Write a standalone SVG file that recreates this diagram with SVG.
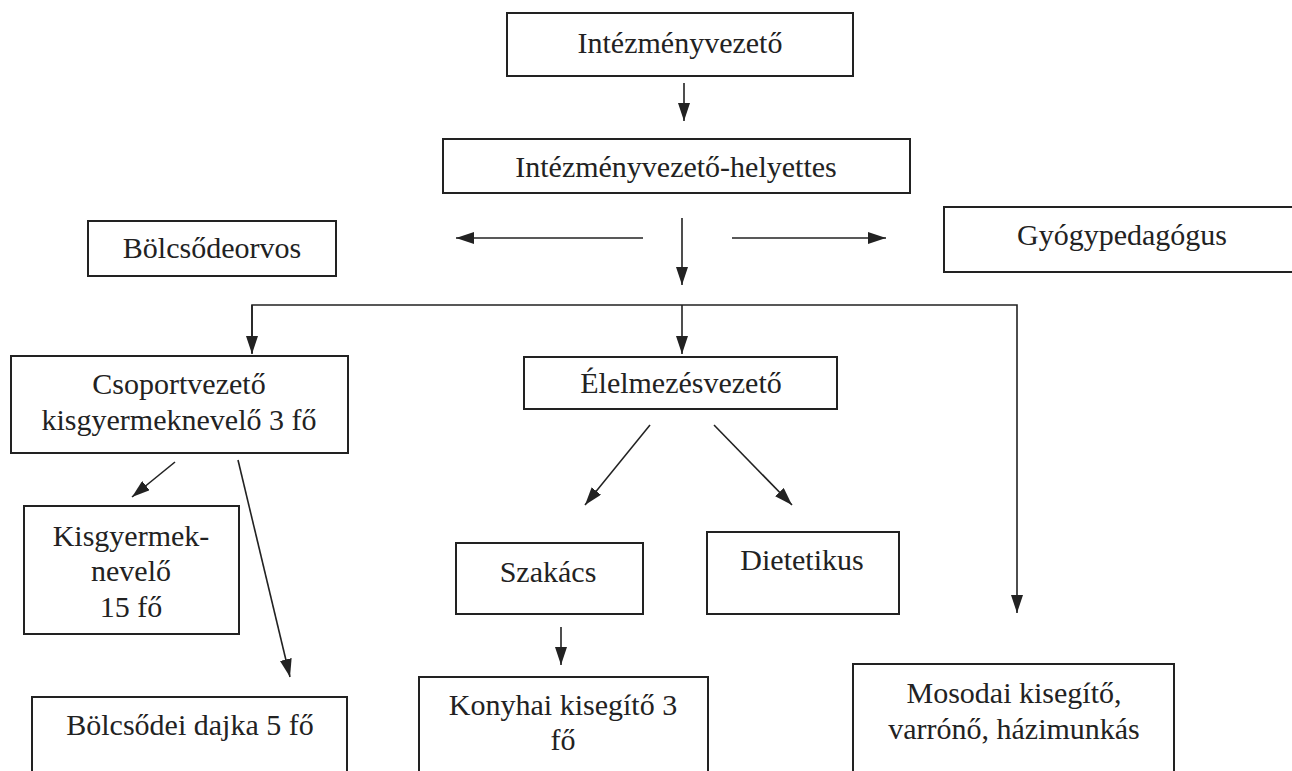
<svg xmlns="http://www.w3.org/2000/svg" width="1292" height="771" viewBox="0 0 1292 771">
<defs>
<marker id="ah" viewBox="0 0 18 12" refX="18" refY="6" markerWidth="18" markerHeight="12" orient="auto" markerUnits="userSpaceOnUse">
<path d="M0,0 L18,6 L0,12 Z" fill="#222"/>
</marker>
</defs>
<rect width="1292" height="771" fill="#fff"/>
<g id="connectors" fill="none" stroke="#222" stroke-width="1.6">
<line x1="684" y1="83" x2="684" y2="121" marker-end="url(#ah)"/>
<line x1="643" y1="238" x2="456" y2="238" marker-end="url(#ah)"/>
<line x1="682" y1="218" x2="682" y2="285" marker-end="url(#ah)"/>
<line x1="732" y1="238" x2="886" y2="238" marker-end="url(#ah)"/>
<polyline points="252,353 252,305 1017,305 1017,613" marker-end="url(#ah)"/>
<line x1="252" y1="305" x2="252" y2="354" marker-end="url(#ah)"/>
<line x1="682" y1="305" x2="682" y2="354" marker-end="url(#ah)"/>
<line x1="175" y1="462" x2="132" y2="497" marker-end="url(#ah)"/>
<line x1="238" y1="460" x2="290" y2="677" marker-end="url(#ah)"/>
<line x1="650" y1="425" x2="585" y2="505" marker-end="url(#ah)"/>
<line x1="714" y1="425" x2="792" y2="505" marker-end="url(#ah)"/>
<line x1="561" y1="627" x2="561" y2="665" marker-end="url(#ah)"/>
</g>
<g id="intezmenyvezeto">
<rect x="507" y="13" width="346" height="63" fill="#fff" stroke="#222" stroke-width="2"/>
<text font-family="Liberation Serif" font-size="30" fill="#222" text-anchor="middle" x="680" y="53">Intézményvezető</text>
</g>
<g id="helyettes">
<rect x="443" y="139" width="467" height="54" fill="#fff" stroke="#222" stroke-width="2"/>
<text font-family="Liberation Serif" font-size="30" fill="#222" text-anchor="middle" x="676" y="177">Intézményvezető-helyettes</text>
</g>
<g id="bolcsodeorvos">
<rect x="88" y="221" width="248" height="55" fill="#fff" stroke="#222" stroke-width="2"/>
<text font-family="Liberation Serif" font-size="30" fill="#222" text-anchor="middle" x="212" y="258">Bölcsődeorvos</text>
</g>
<g id="gyogypedagogus">
<rect x="944" y="207" width="360" height="65" fill="#fff" stroke="#222" stroke-width="2"/>
<text font-family="Liberation Serif" font-size="30" fill="#222" text-anchor="middle" x="1122" y="245">Gyógypedagógus</text>
</g>
<g id="csoportvezeto">
<rect x="11" y="356" width="337" height="97" fill="#fff" stroke="#222" stroke-width="2"/>
<text font-family="Liberation Serif" font-size="30" fill="#222" text-anchor="middle" x="179" y="394">Csoportvezető</text>
<text font-family="Liberation Serif" font-size="30" fill="#222" text-anchor="middle" x="179" y="430">kisgyermeknevelő 3 fő</text>
</g>
<g id="elelmezesvezeto">
<rect x="524" y="357" width="313" height="52" fill="#fff" stroke="#222" stroke-width="2"/>
<text font-family="Liberation Serif" font-size="30" fill="#222" text-anchor="middle" x="681" y="393">Élelmezésvezető</text>
</g>
<g id="kisgyermeknevelo">
<rect x="24" y="506" width="215" height="128" fill="#fff" stroke="#222" stroke-width="2"/>
<text font-family="Liberation Serif" font-size="30" fill="#222" text-anchor="middle" x="131" y="546">Kisgyermek-</text>
<text font-family="Liberation Serif" font-size="30" fill="#222" text-anchor="middle" x="131" y="581">nevelő</text>
<text font-family="Liberation Serif" font-size="30" fill="#222" text-anchor="middle" x="131" y="617">15 fő</text>
</g>
<g id="szakacs">
<rect x="456" y="543" width="187" height="71" fill="#fff" stroke="#222" stroke-width="2"/>
<text font-family="Liberation Serif" font-size="30" fill="#222" text-anchor="middle" x="548" y="582">Szakács</text>
</g>
<g id="dietetikus">
<rect x="707" y="532" width="192" height="82" fill="#fff" stroke="#222" stroke-width="2"/>
<text font-family="Liberation Serif" font-size="30" fill="#222" text-anchor="middle" x="802" y="570">Dietetikus</text>
</g>
<g id="dajka">
<rect x="32" y="697" width="315" height="100" fill="#fff" stroke="#222" stroke-width="2"/>
<text font-family="Liberation Serif" font-size="30" fill="#222" text-anchor="middle" x="190" y="735">Bölcsődei dajka 5 fő</text>
</g>
<g id="konyhai">
<rect x="419" y="677" width="289" height="120" fill="#fff" stroke="#222" stroke-width="2"/>
<text font-family="Liberation Serif" font-size="30" fill="#222" text-anchor="middle" x="563" y="715">Konyhai kisegítő 3</text>
<text font-family="Liberation Serif" font-size="30" fill="#222" text-anchor="middle" x="563" y="750">fő</text>
</g>
<g id="mosodai">
<rect x="853" y="664" width="321" height="130" fill="#fff" stroke="#222" stroke-width="2"/>
<text font-family="Liberation Serif" font-size="30" fill="#222" text-anchor="middle" x="1014" y="703">Mosodai kisegítő,</text>
<text font-family="Liberation Serif" font-size="30" fill="#222" text-anchor="middle" x="1014" y="739">varrónő, házimunkás</text>
</g>
</svg>
